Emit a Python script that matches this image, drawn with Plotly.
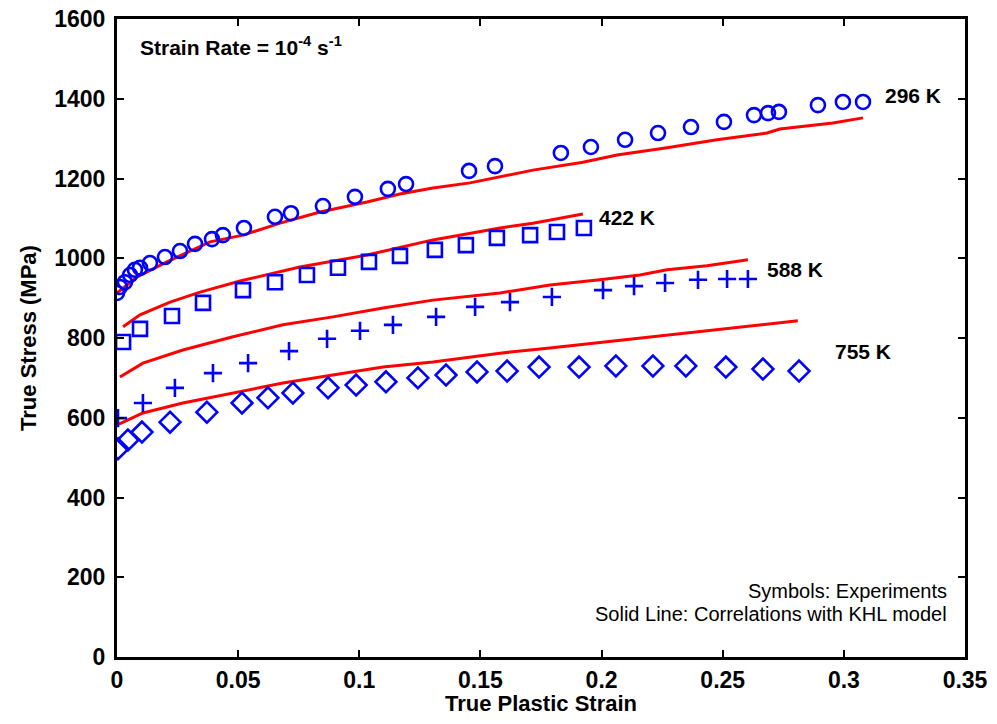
import plotly.graph_objects as go

# ---- data ----
c296_x = [0.0, 0.0012, 0.0033, 0.0054, 0.0074, 0.0095, 0.0136, 0.0198, 0.026, 0.0322, 0.0392, 0.0437,
          0.0524, 0.0652, 0.0718, 0.085, 0.0982, 0.1118, 0.1193, 0.1453, 0.156, 0.1832, 0.1956, 0.2097,
          0.2233, 0.2369, 0.2505, 0.2629, 0.2687, 0.2732, 0.2893, 0.2996, 0.3079]
c296_y = [913, 928, 940, 958, 971, 976, 988, 1003, 1018, 1036, 1048, 1058,
          1076, 1104, 1113, 1131, 1154, 1174, 1186, 1219, 1231, 1264, 1279, 1297,
          1314, 1329, 1342, 1359, 1364, 1367, 1384, 1392, 1392]
l296_x = [0.0, 0.0083, 0.0206, 0.0384, 0.052, 0.0673, 0.0838, 0.1032, 0.1168, 0.1304, 0.1457, 0.1581,
          0.1717, 0.1923, 0.2064, 0.227, 0.2476, 0.2683, 0.2736, 0.2955, 0.3079]
l296_y = [913, 953, 991, 1041, 1058, 1088, 1116, 1141, 1161, 1176, 1189, 1204,
          1221, 1241, 1259, 1277, 1297, 1314, 1324, 1339, 1352]

s422_x = [0.0025, 0.0095, 0.0227, 0.0355, 0.052, 0.0652, 0.0784, 0.0912, 0.104, 0.1168, 0.1312, 0.144,
          0.1568, 0.1705, 0.1816, 0.1927]
s422_y = [790, 823, 855, 888, 920, 940, 958, 976, 991, 1006, 1021, 1033, 1051, 1058, 1066, 1076]
l422_x = [0.0025, 0.0095, 0.0219, 0.0343, 0.0508, 0.0755, 0.1032, 0.1304, 0.1581, 0.1717, 0.1923]
l422_y = [828, 858, 890, 915, 943, 978, 1008, 1046, 1076, 1088, 1111]

p588_x = [0.0004, 0.0107, 0.0239, 0.0396, 0.0541, 0.071, 0.0867, 0.1003, 0.1139, 0.1317, 0.1478,
          0.1622, 0.1795, 0.2006, 0.2134, 0.2262, 0.2398, 0.2518, 0.2604]
p588_y = [599, 637, 675, 712, 737, 767, 798, 818, 833, 853, 878, 890, 903, 920, 930, 938, 946, 948, 948]
l588_x = [0.0012, 0.0107, 0.0272, 0.0479, 0.0685, 0.0891, 0.1098, 0.1304, 0.1581, 0.1787, 0.1993,
          0.2158, 0.227, 0.2435, 0.2604]
l588_y = [702, 737, 770, 803, 833, 853, 875, 895, 913, 933, 946, 958, 971, 981, 996]

d755_x = [0.0004, 0.0045, 0.0103, 0.0219, 0.0371, 0.0516, 0.0623, 0.0726, 0.0871, 0.0987, 0.111,
          0.1242, 0.1358, 0.1486, 0.161, 0.1742, 0.1907, 0.2059, 0.2212, 0.2348, 0.2513, 0.2666, 0.2815]
d755_y = [522, 544, 564, 589, 614, 637, 650, 662, 675, 682, 690, 700, 707, 715, 717, 727, 727, 730,
          730, 730, 727, 722, 717]
l755_x = [0.0008, 0.0107, 0.0272, 0.0479, 0.0685, 0.0891, 0.1098, 0.1304, 0.1581, 0.1787, 0.2064,
          0.227, 0.2518, 0.2683, 0.281]
l755_y = [584, 612, 637, 662, 687, 707, 727, 740, 762, 775, 793, 808, 823, 835, 843]

labels = ["296 K", "422 K", "588 K", "755 K"]
label_x = [0.316, 0.198, 0.2674, 0.2955]
label_y = [1409, 1101, 971, 765]

x_ticks = [0, 0.05, 0.1, 0.15, 0.2, 0.25, 0.3, 0.35]
x_tick_text = ["0", "0.05", "0.1", "0.15", "0.2", "0.25", "0.3", "0.35"]
y_ticks = [0, 200, 400, 600, 800, 1000, 1200, 1400, 1600]

BLUE = "#0000FF"
RED = "#FF0000"
FONT = "Liberation Sans, Arial, sans-serif"

fig = go.Figure()
for lx, ly in [(l296_x, l296_y), (l422_x, l422_y), (l588_x, l588_y), (l755_x, l755_y)]:
    fig.add_trace(go.Scatter(x=lx, y=ly, mode="lines", line=dict(color=RED, width=3), showlegend=False))

sym = [(c296_x, c296_y, "circle-open", 14), (s422_x, s422_y, "square-open", 14),
       (p588_x, p588_y, "cross-thin-open", 13), (d755_x, d755_y, "diamond-open", 16)]
for sx, sy, s, sz in sym:
    fig.add_trace(go.Scatter(x=sx, y=sy, mode="markers",
                             marker=dict(symbol=s, size=sz, color=BLUE, line=dict(color=BLUE, width=2.6)),
                             showlegend=False))

for t, lx, ly in zip(labels, label_x, label_y):
    fig.add_annotation(x=lx, y=ly, text="<b>%s</b>" % t, showarrow=False, xanchor="left", yanchor="middle",
                       font=dict(family=FONT, size=21, color="black"))

fig.add_annotation(xref="paper", yref="paper", x=0.0245, y=0.958, xanchor="left", yanchor="middle",
                   text="<b>Strain Rate = 10<sup>-4</sup> s<sup>-1</sup></b>", showarrow=False,
                   font=dict(family=FONT, size=21, color="black"))
fig.add_annotation(xref="paper", yref="paper", x=0.9815, y=0.103, xanchor="right", yanchor="middle",
                   text="Symbols: Experiments", showarrow=False,
                   font=dict(family=FONT, size=20, color="black"))
fig.add_annotation(xref="paper", yref="paper", x=0.9815, y=0.067, xanchor="right", yanchor="middle",
                   text="Solid Line: Correlations with KHL model", showarrow=False,
                   font=dict(family=FONT, size=20, color="black"))

axis_common = dict(showline=True, linecolor="black", linewidth=3, mirror="ticks", ticks="inside",
                   ticklen=7, tickwidth=2, tickcolor="black", showgrid=False, zeroline=False,
                   automargin=False, ticklabeloverflow="allow",
                   tickfont=dict(family=FONT, size=23, color="black"))
fig.update_xaxes(range=[0, 0.35], tickvals=x_ticks, ticktext=["<b>%s</b>" % t for t in x_tick_text],
                 title=dict(text="<b>True Plastic Strain</b>", font=dict(family=FONT, size=22, color="black"),
                            standoff=4), **axis_common)
fig.update_yaxes(range=[0, 1600], tickvals=y_ticks, ticktext=["<b>%d</b>" % v for v in y_ticks],
                 ticklabelstandoff=4,
                 title=dict(text="<b>True Stress (MPa)</b>", font=dict(family=FONT, size=22, color="black"),
                            standoff=12), **axis_common)

# page has an 8px body margin; size/margins compensate so the plot box lands where the reference's does
fig.update_layout(width=981, height=708, margin=dict(l=109, r=24, t=11, b=59, autoexpand=False),
                  plot_bgcolor="white", paper_bgcolor="white", font=dict(family=FONT))
fig.write_html("out.html")
